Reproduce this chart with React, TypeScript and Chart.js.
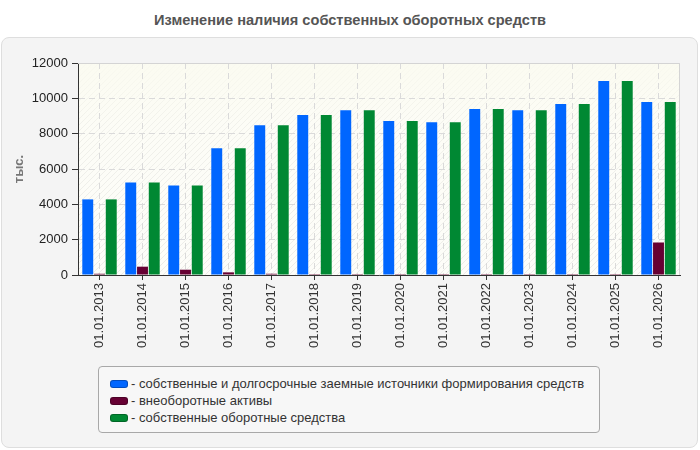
import React, { useEffect, useRef } from "react";
import { Chart, registerables } from "chart.js";

Chart.register(...registerables);

// Reporting dates
const categories = [
  "01.01.2013", "01.01.2014", "01.01.2015", "01.01.2016", "01.01.2017",
  "01.01.2018", "01.01.2019", "01.01.2020", "01.01.2021", "01.01.2022",
  "01.01.2023", "01.01.2024", "01.01.2025", "01.01.2026",
];

// Values, thousands
const ownAndLongTermSources = [
  4280, 5240, 5070, 7180, 8480, 9050, 9330, 8710, 8650, 9390, 9330, 9680, 10980, 9790,
];
const nonCurrentAssets = [
  70, 470, 300, 150, 70, 50, 50, 50, 50, 50, 50, 50, 50, 1840,
];
const ownWorkingCapital = [
  4280, 5240, 5070, 7180, 8480, 9050, 9330, 8710, 8650, 9390, 9330, 9680, 10980, 9790,
];

const yTicks = [0, 2000, 4000, 6000, 8000, 10000, 12000];

const seriesNames = [
  "собственные и долгосрочные заемные источники формирования средств",
  "внеоборотные активы",
  "собственные оборотные средства",
];
const seriesColors = ["#0066ff", "#660033", "#008833"];

const FONT = "'Liberation Sans', Arial, sans-serif";

function makeHatch(): CanvasPattern | string {
  const c = document.createElement("canvas");
  c.width = 6;
  c.height = 6;
  const g = c.getContext("2d");
  if (!g) return "#fcfcf7";
  g.fillStyle = "#fdfdf9";
  g.fillRect(0, 0, 6, 6);
  g.strokeStyle = "#ecece8";
  g.lineWidth = 1;
  g.beginPath();
  g.moveTo(-1, 7);
  g.lineTo(7, -1);
  g.moveTo(-4, 4);
  g.lineTo(4, -4);
  g.moveTo(2, 10);
  g.lineTo(10, 2);
  g.stroke();
  const p = g.createPattern(c, "repeat");
  return p || "#fcfcf7";
}

const plotBackground = {
  id: "plotBackground",
  beforeDraw(chart: any) {
    const { ctx, chartArea } = chart;
    const { left, top, right, bottom } = chartArea;
    ctx.save();
    ctx.fillStyle = makeHatch();
    ctx.fillRect(left, top, right - left, bottom - top);
    const grad = ctx.createLinearGradient(0, top, 0, bottom);
    grad.addColorStop(0, "rgba(251,251,240,0.9)");
    grad.addColorStop(0.3, "rgba(251,251,240,0.3)");
    grad.addColorStop(1, "rgba(251,251,240,0)");
    ctx.fillStyle = grad;
    ctx.fillRect(left, top, right - left, bottom - top);
    ctx.restore();
  },
  afterDatasetsDraw(chart: any) {
    const { ctx, chartArea } = chart;
    const { left, top, right, bottom } = chartArea;
    ctx.save();
    ctx.strokeStyle = "#d4d4d4";
    ctx.lineWidth = 1;
    ctx.beginPath();
    ctx.moveTo(left, top + 0.5);
    ctx.lineTo(right - 0.5, top + 0.5);
    ctx.lineTo(right - 0.5, bottom);
    ctx.stroke();
    ctx.restore();
  },
};

export default function App() {
  const canvasRef = useRef<HTMLCanvasElement | null>(null);

  useEffect(() => {
    document.body.style.margin = "0";
    const canvas = canvasRef.current;
    if (!canvas) return;
    const values = [ownAndLongTermSources, nonCurrentAssets, ownWorkingCapital];
    const chart = new Chart(canvas, {
      type: "bar",
      data: {
        labels: categories,
        datasets: values.map((data, i) => ({
          label: seriesNames[i],
          data,
          backgroundColor: seriesColors[i],
          borderWidth: 0,
          barPercentage: 0.93,
          categoryPercentage: 0.82,
        })),
      },
      options: {
        responsive: false,
        animation: false,
        devicePixelRatio: 1,
        layout: { padding: { top: 63, right: 20, left: 0, bottom: 0 } },
        plugins: {
          legend: { display: false },
          title: { display: false },
          tooltip: { enabled: false },
        },
        scales: {
          x: {
            afterFit(scale: any) {
              scale.height = 175;
            },
            grid: {
              offset: false,
              color: "#dadada",
              tickColor: "#333333",
              tickLength: 5,
            },
            border: { color: "#333333", width: 1, dash: [6, 4] },
            ticks: {
              maxRotation: 90,
              minRotation: 90,
              autoSkip: false,
              padding: 3,
              color: "#333333",
              font: { family: FONT, size: 13 },
            },
          },
          y: {
            min: 0,
            max: 12000,
            afterFit(scale: any) {
              scale.width = 78;
            },
            afterBuildTicks(scale: any) {
              scale.ticks = yTicks.map((v) => ({ value: v }));
            },
            grid: {
              color: "#dadada",
              tickColor: "#333333",
              tickLength: 6,
            },
            border: { color: "#333333", width: 1, dash: [6, 4] },
            ticks: {
              padding: 4,
              color: "#222222",
              font: { family: FONT, size: 13 },
              callback: (v: any) => String(v),
            },
            title: {
              display: true,
              text: "тыс.",
              color: "#777777",
              padding: { top: 12, bottom: 0 },
              font: { family: FONT, size: 13, weight: "bold" },
            },
          },
        },
      },
      plugins: [plotBackground],
    });
    return () => chart.destroy();
  }, []);

  return (
    <div
      style={{
        position: "relative",
        width: 700,
        height: 450,
        background: "#ffffff",
        fontFamily: FONT,
        overflow: "hidden",
      }}
    >
      <div
        style={{
          position: "absolute",
          left: 0,
          top: 11,
          width: 700,
          textAlign: "center",
          fontWeight: "bold",
          fontSize: 14.6,
          color: "#555555",
          lineHeight: "18px",
        }}
      >
        Изменение наличия собственных оборотных средств
      </div>
      <div
        style={{
          position: "absolute",
          left: 1,
          top: 37,
          width: 695,
          height: 409,
          background: "#f4f4f4",
          border: "1px solid #dedede",
          borderRadius: 8,
        }}
      />
      <canvas
        ref={canvasRef}
        width={700}
        height={450}
        style={{ position: "absolute", left: 0, top: 0, width: 700, height: 450 }}
      />
      <div
        style={{
          position: "absolute",
          left: 98,
          top: 366,
          width: 500,
          height: 65,
          background: "#f7f7f7",
          border: "1px solid #a8a8a8",
          borderRadius: 4,
          boxSizing: "content-box",
        }}
      >
        {seriesNames.map((name, i) => (
          <div
            key={name}
            style={{
              position: "absolute",
              left: 11,
              top: 8 + i * 17,
              height: 17,
              display: "flex",
              alignItems: "center",
              whiteSpace: "nowrap",
              fontSize: 13,
              color: "#333333",
            }}
          >
            <span
              style={{
                display: "inline-block",
                width: 16,
                height: 6,
                background: seriesColors[i],
                border: "1px solid rgba(0,0,0,0.25)",
                borderRadius: 3,
                marginRight: 3,
              }}
            />
            <span>- {name}</span>
          </div>
        ))}
      </div>
    </div>
  );
}
